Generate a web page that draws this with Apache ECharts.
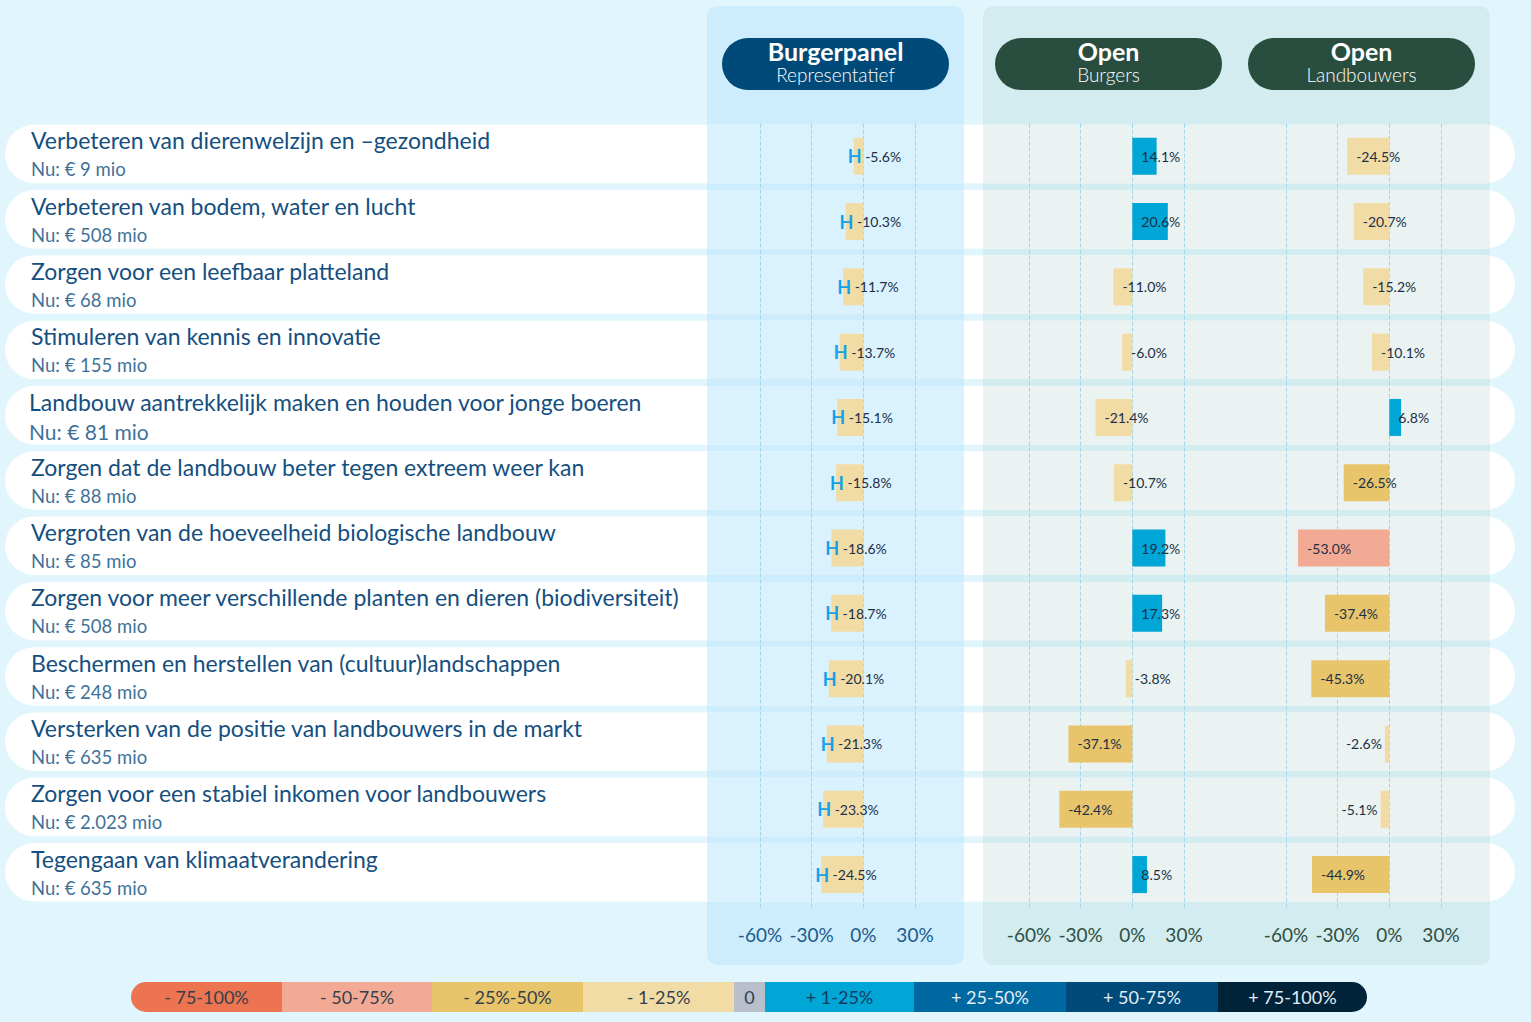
<!DOCTYPE html>
<html>
<head>
<meta charset="utf-8">
<title>Budgetverdeling</title>
<script src="https://cdn.jsdelivr.net/npm/echarts@6/dist/echarts.min.js"></script>
<style>
  html, body { margin: 0; padding: 0; background: #e0f6fc; }
  #chart { width: 1531px; height: 1022px; }
</style>
</head>
<body>
<div id="chart"></div>
<script>
// onderwerpen en huidig budget
const categories = [
  'Verbeteren van dierenwelzijn en –gezondheid',
  'Verbeteren van bodem, water en lucht',
  'Zorgen voor een leefbaar platteland',
  'Stimuleren van kennis en innovatie',
  'Landbouw aantrekkelijk maken en houden voor jonge boeren',
  'Zorgen dat de landbouw beter tegen extreem weer kan',
  'Vergroten van de hoeveelheid biologische landbouw',
  'Zorgen voor meer verschillende planten en dieren (biodiversiteit)',
  'Beschermen en herstellen van (cultuur)landschappen',
  'Versterken van de positie van landbouwers in de markt',
  'Zorgen voor een stabiel inkomen voor landbouwers',
  'Tegengaan van klimaatverandering'
]
const budgets = ['€ 9 mio', '€ 508 mio', '€ 68 mio', '€ 155 mio', '€ 81 mio', '€ 88 mio',
  '€ 85 mio', '€ 508 mio', '€ 248 mio', '€ 635 mio', '€ 2.023 mio', '€ 635 mio']

// gemiddelde verandering in procenten
const burgerpanel = [-5.6, -10.3, -11.7, -13.7, -15.1, -15.8, -18.6, -18.7, -20.1, -21.3, -23.3, -24.5]
const openBurgers = [14.1, 20.6, -11.0, -6.0, -21.4, -10.7, 19.2, 17.3, -3.8, -37.1, -42.4, 8.5]
const openLandbouwers = [-24.5, -20.7, -15.2, -10.1, 6.8, -26.5, -53.0, -37.4, -45.3, -2.6, -5.1, -44.9]

const panelTitles = ['Burgerpanel', 'Open', 'Open']
const panelSubtitles = ['Representatief', 'Burgers', 'Landbouwers']
const legendLabels = ['- 75-100%', '- 50-75%', '- 25%-50%', '- 1-25%', '0', '+ 1-25%', '+ 25-50%', '+ 50-75%', '+ 75-100%']

const palette = ['#ec7450', '#f2aa95', '#e8c46b', '#f2dca6', '#b9c0cb', '#00a6d6', '#0068a1', '#004a79', '#002339']
const FONT = 'Lato'

function colorFor(v) {
  if (v <= -75) return palette[0]
  if (v <= -50) return palette[1]
  if (v <= -25) return palette[2]
  if (v < 0) return palette[3]
  if (v === 0) return palette[4]
  if (v < 25) return palette[5]
  if (v < 50) return palette[6]
  if (v < 75) return palette[7]
  return palette[8]
}

const gridTop = 123.6
const gridHeight = 783.6
const gridLefts = [760, 1029, 1286]
const gridWidth = 155
const axisColors = ['#1d5b8c', '#2f4f44', '#2f4f44']

const chart = echarts.init(document.getElementById('chart'), null, { renderer: 'svg' })

const grids = gridLefts.map((l) => ({ left: l, width: gridWidth, top: gridTop, height: gridHeight }))

const xAxes = gridLefts.map((l, i) => ({
  type: 'value',
  gridIndex: i,
  min: -60,
  max: 30,
  interval: 30,
  z: 1,
  axisLine: { show: false },
  axisTick: { show: false },
  axisLabel: {
    formatter: '{value}%',
    margin: 18,
    fontFamily: FONT,
    fontSize: 19,
    color: axisColors[i]
  },
  splitLine: { show: true, lineStyle: { color: '#9fd6ea', type: [4, 2], width: 1 } }
}))

const yAxes = gridLefts.map((l, i) => ({
  type: 'category',
  gridIndex: i,
  inverse: true,
  data: categories,
  axisLine: { show: false },
  axisTick: { show: false },
  splitLine: { show: false },
  axisLabel: i === 0 ? {
    show: true,
    align: 'left',
    margin: 729,
    formatter: (value, idx) => idx === 4
      ? '{t5|' + value + '}\n{s5|Nu: ' + budgets[idx] + '}'
      : '{t|' + value + '}\n{s|Nu: ' + budgets[idx] + '}',
    rich: {
      t: { fontFamily: FONT, fontSize: 23, color: '#154f7f', lineHeight: 26 },
      s: { fontFamily: FONT, fontSize: 18.5, color: '#3f7299', lineHeight: 32 },
      t5: { fontFamily: FONT, fontSize: 23, color: '#154f7f', lineHeight: 28, padding: [0, 0, 0, -2] },
      s5: { fontFamily: FONT, fontSize: 21, color: '#3f7299', lineHeight: 30, padding: [0, 0, 0, -2] }
    }
  } : { show: false }
}))

const seriesData = [burgerpanel, openBurgers, openLandbouwers]
const series = seriesData.map((arr, i) => ({
  type: 'bar',
  xAxisIndex: i,
  yAxisIndex: i,
  barWidth: 37,
  z: 3,
  data: arr.map((v) => {
    const item = { value: v, itemStyle: { color: colorFor(v) } }
    if (i === 2 && v < 0 && v > -6) {
      item.label = { position: 'left', distance: 3 }
    }
    return item
  }),
  label: {
    show: true,
    position: 'insideLeft',
    distance: i === 0 ? 0 : 9,
    offset: i === 0 ? [-6, 0] : [0, 0],
    fontFamily: FONT,
    fontSize: 14,
    color: '#1c2f46',
    formatter: (p) => {
      const txt = p.value.toFixed(1) + '%'
      return i === 0 ? '{h|H} ' + txt : txt
    },
    rich: {
      h: { fontFamily: FONT, fontSize: 18, fontWeight: 'bold', color: '#14a0ea' }
    }
  }
}))

// achtergrond: panelen, rijen, kopjes en legenda
const bandH = gridHeight / categories.length
const graphics = []
graphics.push({ type: 'rect', z: -10, shape: { x: 707, y: 6, width: 257, height: 959, r: 10 }, style: { fill: '#cdedfc' } })
graphics.push({ type: 'rect', z: -10, shape: { x: 983, y: 6, width: 507, height: 959, r: 10 }, style: { fill: '#d3ecef' } })
categories.forEach((c, i) => {
  const y = gridTop + i * bandH + 1.2
  graphics.push({ type: 'rect', z: -9, shape: { x: 5, y: y, width: 1510, height: 58.4, r: 29.2 }, style: { fill: '#ffffff' } })
  graphics.push({ type: 'rect', z: -8, shape: { x: 707, y: y, width: 257, height: 58.4 }, style: { fill: '#daf2fd' } })
  graphics.push({ type: 'rect', z: -8, shape: { x: 983, y: y, width: 507, height: 58.4 }, style: { fill: '#eaf3f1' } })
})
const pillX = [722, 995, 1248]
const pillColors = ['#004a79', '#294d3e']
pillX.forEach((x, i) => {
  graphics.push({ type: 'rect', z: 5, shape: { x: x, y: 38, width: 227, height: 52, r: 26 }, style: { fill: i === 0 ? pillColors[0] : pillColors[1] } })
  graphics.push({ type: 'text', z: 6, x: x + 113.5, y: 51, style: { text: panelTitles[i], fill: '#ffffff', font: 'bold 25px ' + FONT, align: 'center', verticalAlign: 'middle' } })
  graphics.push({ type: 'text', z: 6, x: x + 113.5, y: 74.5, style: { text: panelSubtitles[i], fill: '#ffffff', font: '300 19px ' + FONT, align: 'center', verticalAlign: 'middle' } })
})
const legendX = [131, 282, 432, 583, 734, 765, 914, 1066, 1218, 1367]
legendLabels.forEach((lab, i) => {
  const x0 = legendX[i]
  const w = legendX[i + 1] - x0
  let r = 0
  if (i === 0) r = [15, 0, 0, 15]
  if (i === legendLabels.length - 1) r = [0, 15, 15, 0]
  graphics.push({ type: 'rect', z: 5, shape: { x: x0, y: 982, width: w, height: 30, r: r }, style: { fill: palette[i] } })
  graphics.push({ type: 'text', z: 6, x: x0 + w / 2, y: 997, style: { text: lab, fill: i >= 6 ? '#e3eef6' : (i === 5 ? '#163a60' : '#33404e'), font: '18px ' + FONT, align: 'center', verticalAlign: 'middle' } })
})

chart.setOption({
  backgroundColor: '#e0f6fc',
  animation: false,
  grid: grids,
  xAxis: xAxes,
  yAxis: yAxes,
  series: series,
  graphic: { elements: graphics }
})
</script>
</body>
</html>
